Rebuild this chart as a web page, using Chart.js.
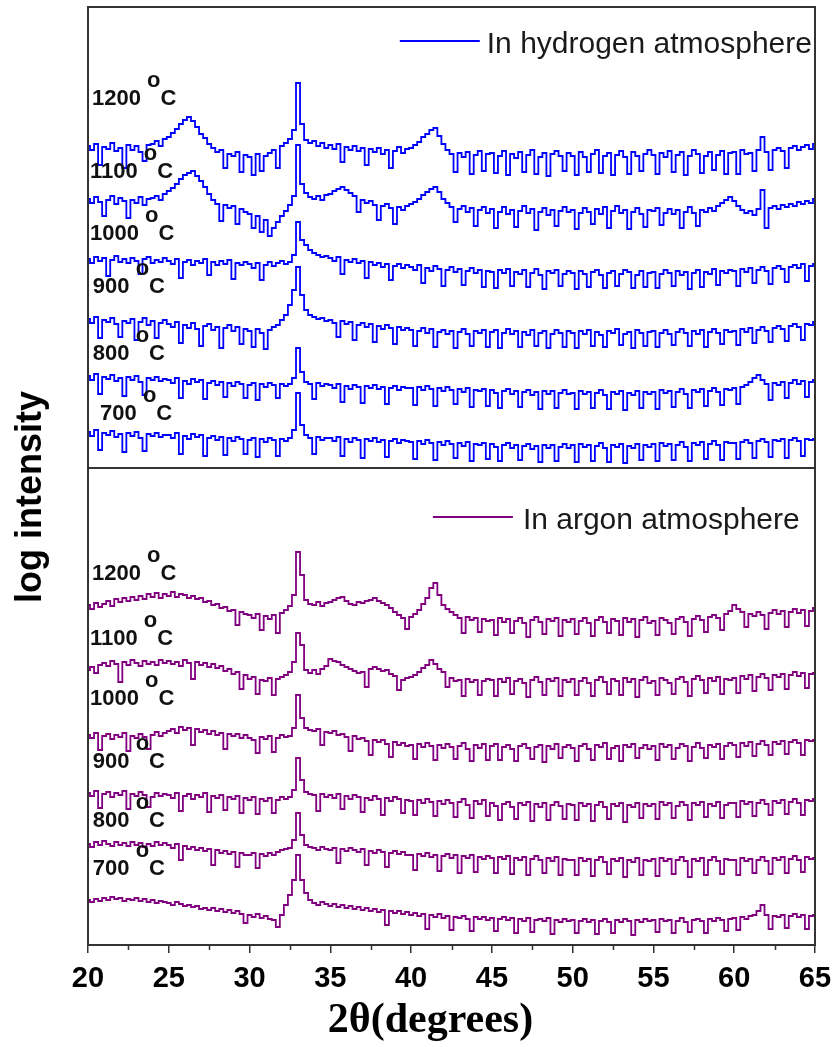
<!DOCTYPE html>
<html><head><meta charset="utf-8">
<script src="https://cdn.jsdelivr.net/npm/chart.js@4.4.1/dist/chart.umd.min.js"></script>
<style>html,body{margin:0;padding:0;background:#fff}canvas{display:block}</style>
</head><body>
<canvas id="c" width="832" height="1047"></canvas>
<script>
// 2-theta sampling grid (degrees)
const twoTheta = [
20,20.25,20.5,20.75,21,21.25,21.5,21.75,22,22.25,22.5,22.75,23,23.25,23.5,23.75,24,24.25,24.5,24.75,
25,25.25,25.5,25.75,26,26.25,26.5,26.75,27,27.25,27.5,27.75,28,28.25,28.5,28.75,29,29.25,29.5,29.75,
30,30.25,30.5,30.75,31,31.25,31.5,31.75,32,32.25,32.5,32.75,33,33.25,33.5,33.75,34,34.25,34.5,34.75,
35,35.25,35.5,35.75,36,36.25,36.5,36.75,37,37.25,37.5,37.75,38,38.25,38.5,38.75,39,39.25,39.5,39.75,
40,40.25,40.5,40.75,41,41.25,41.5,41.75,42,42.25,42.5,42.75,43,43.25,43.5,43.75,44,44.25,44.5,44.75,
45,45.25,45.5,45.75,46,46.25,46.5,46.75,47,47.25,47.5,47.75,48,48.25,48.5,48.75,49,49.25,49.5,49.75,
50,50.25,50.5,50.75,51,51.25,51.5,51.75,52,52.25,52.5,52.75,53,53.25,53.5,53.75,54,54.25,54.5,54.75,
55,55.25,55.5,55.75,56,56.25,56.5,56.75,57,57.25,57.5,57.75,58,58.25,58.5,58.75,59,59.25,59.5,59.75,
60,60.25,60.5,60.75,61,61.25,61.5,61.75,62,62.25,62.5,62.75,63,63.25,63.5,63.75,64,64.25,64.5,64.75,
65];

// Hydrogen atmosphere traces (offset log intensity, a.u.)
const h1200 = [
322,318,324,303,321,319,325,317,320,300,323,318,322,316,307,323,324,327,322,329,
331,335,339,344,348,351,347,341,334,330,324,320,316,318,300,314,312,316,296,313,
311,293,314,297,312,315,318,300,322,325,329,338,385,344,328,325,327,322,325,320,
323,319,324,306,321,318,322,317,320,303,319,316,320,314,318,300,317,321,315,319,
320,323,326,331,334,338,340,332,324,318,314,296,315,311,316,294,313,317,297,314,
315,295,312,317,293,314,310,316,296,313,318,294,311,315,292,314,317,312,297,315,
312,293,316,311,296,314,318,295,312,315,293,313,317,311,294,316,312,297,314,318,
313,294,315,311,317,296,313,316,293,312,318,314,295,312,316,298,313,317,294,315,
316,294,318,314,315,297,318,331,316,298,318,320,317,300,320,322,318,321,323,319,
324];
const h1100 = [
269,265,271,266,252,268,272,264,270,267,250,268,265,271,263,269,270,272,268,274,
277,280,284,289,293,295,297,292,287,281,274,268,264,247,263,260,262,244,259,256,
254,240,252,236,248,232,240,246,252,257,263,272,323,284,275,271,269,272,268,273,
274,277,279,281,278,275,272,256,268,265,267,263,248,262,264,260,244,261,258,262,
264,266,269,273,276,279,281,276,269,265,261,246,259,262,256,260,242,258,261,255,
259,240,256,261,254,258,241,257,262,255,259,238,256,260,253,258,242,257,261,256,
258,239,255,260,256,244,259,254,261,240,257,262,255,258,239,256,260,254,241,258,
257,260,243,255,259,254,258,240,256,261,255,242,258,256,260,257,262,265,268,271,
267,262,258,255,257,253,259,278,240,260,262,259,263,261,264,262,266,264,267,265,
269];
const h1000 = [
209,205,211,207,210,192,208,212,206,209,205,210,207,194,209,211,205,208,206,210,
207,204,209,190,206,208,203,207,205,209,193,206,203,207,204,208,189,205,203,206,
204,200,205,188,203,206,202,205,207,204,206,213,246,228,223,218,215,213,211,212,
210,207,211,194,208,206,209,205,207,190,206,203,205,201,204,188,202,204,200,203,
201,198,203,185,200,197,202,199,182,198,201,196,199,183,197,200,195,198,181,197,
196,180,198,195,199,182,196,194,198,181,195,199,193,179,197,195,198,182,194,197,
195,179,197,194,181,196,198,193,180,195,197,182,194,198,196,180,193,197,181,195,
196,180,194,198,195,182,197,193,196,179,195,198,181,196,194,199,183,197,195,198,
197,182,199,196,200,185,198,201,197,184,200,202,199,186,201,203,200,204,187,202,
204];
const h900 = [
149,145,151,130,148,146,150,144,131,147,145,149,128,146,150,143,147,130,145,148,
144,141,146,125,143,140,145,139,122,142,144,138,141,120,140,143,137,141,124,139,
137,121,139,135,119,138,141,143,148,153,163,178,201,173,158,153,151,149,150,147,
148,145,131,147,144,146,128,143,145,141,144,126,142,139,143,140,124,141,138,140,
138,122,137,140,135,139,121,136,138,134,137,120,136,139,134,122,137,135,138,121,
136,138,120,135,139,134,137,121,136,133,138,122,135,137,120,134,138,135,121,137,
135,120,137,134,138,122,136,133,121,137,135,139,123,134,136,120,138,135,122,136,
137,121,135,138,134,123,136,139,135,122,137,134,138,121,136,139,135,124,138,136,
137,123,139,136,140,125,138,141,137,126,140,142,139,127,142,144,141,128,144,143,
146];
const h800 = [
92,88,94,74,91,89,93,87,90,72,91,88,92,86,73,90,88,91,87,89,
88,85,90,70,87,84,89,86,88,69,85,87,83,86,71,85,82,86,84,70,
83,85,68,84,81,85,83,70,84,82,84,90,120,96,86,84,69,85,82,84,
83,80,84,66,82,79,83,81,65,82,80,83,79,81,64,80,82,78,81,80,
80,63,81,78,82,79,62,80,77,81,78,64,79,76,80,61,78,77,79,62,
78,75,60,77,79,74,77,61,76,78,73,76,59,77,74,77,60,75,78,74,
75,59,77,74,76,60,75,78,73,59,76,74,77,58,75,73,77,60,76,74,
76,59,78,75,77,61,76,79,74,60,78,76,79,62,77,80,76,63,79,78,
80,64,81,83,86,90,93,88,84,68,85,83,86,70,85,88,84,87,71,86,
88];
const h700 = [
36,32,38,18,35,33,37,31,34,16,35,32,36,30,17,34,32,35,31,33,
33,30,35,14,32,29,34,31,33,12,30,32,28,31,13,30,27,31,29,14,
28,30,11,29,26,30,28,12,29,27,30,38,75,43,33,30,14,31,28,30,
30,27,31,12,29,26,30,28,10,29,27,30,26,28,11,27,29,25,28,27,
26,9,27,24,28,25,8,26,23,27,24,10,25,22,26,7,24,23,25,9,
24,21,7,23,25,20,23,8,22,24,19,22,6,23,20,23,7,21,24,20,
23,6,24,21,23,7,22,25,20,6,23,21,24,5,22,20,24,8,23,21,
24,7,25,22,24,8,23,26,21,7,25,23,26,9,24,27,23,8,26,25,
25,9,26,28,25,10,27,29,26,11,28,27,29,10,28,30,27,12,29,28,
29];

// Argon atmosphere traces (offset log intensity, a.u.)
const a1200 = [
340,336,342,338,341,344,339,346,343,347,344,348,345,349,346,351,348,352,347,351,
349,353,348,351,350,347,349,346,347,343,344,340,341,337,338,334,335,320,333,331,
330,327,331,315,329,326,330,312,332,335,339,350,393,370,345,341,340,343,339,342,
343,345,347,348,344,341,340,343,342,344,345,347,344,342,340,337,333,330,327,316,
328,331,335,341,347,357,362,350,340,336,333,330,327,312,328,325,327,313,326,324,
325,310,327,323,326,312,324,327,322,308,325,328,323,311,326,324,327,309,325,323,
326,311,324,327,322,309,325,328,323,312,326,324,310,327,323,326,308,325,328,322,
324,310,327,325,322,311,326,328,323,309,326,329,325,313,328,330,327,315,331,334,
340,336,333,318,331,329,333,330,316,332,335,331,334,318,333,336,332,335,319,334,
337];
const a1100 = [
275,278,272,280,282,279,284,281,263,283,280,285,282,279,284,281,283,280,285,282,
284,281,283,279,285,282,266,283,280,282,278,281,277,279,274,276,271,273,256,270,
266,268,251,265,264,267,250,266,268,270,273,283,312,300,275,272,275,271,276,279,
286,284,283,280,278,276,274,272,273,258,276,278,276,274,275,271,269,255,265,267,
268,270,273,277,280,285,281,276,273,258,267,264,265,249,266,263,265,250,264,266,
265,249,266,263,267,251,264,266,262,248,265,268,263,250,266,264,267,249,265,263,
266,250,264,267,262,249,265,268,263,251,266,264,250,267,263,266,248,265,268,262,
264,250,267,265,262,251,266,268,263,249,266,269,265,252,267,264,268,251,266,265,
267,252,269,266,270,254,268,271,267,255,270,268,271,256,270,273,269,272,257,271,
272];
const a1000 = [
210,207,212,195,209,211,206,210,208,212,194,209,207,211,208,196,210,213,209,212,
214,216,212,218,215,217,200,216,213,215,211,214,210,212,196,211,209,211,207,210,
207,205,192,208,206,209,193,207,210,208,209,217,250,227,217,215,214,216,200,213,
212,214,210,211,208,194,209,206,207,204,190,205,203,205,201,188,203,200,202,199,
200,186,201,198,202,199,185,200,197,201,198,186,199,202,196,184,200,197,201,185,
199,201,185,198,200,196,184,199,201,197,186,198,200,183,199,196,201,187,198,200,
197,184,199,201,196,185,200,198,202,186,197,199,184,200,198,201,187,197,200,196,
199,185,201,198,200,186,197,201,199,184,198,202,197,187,200,198,201,186,199,202,
200,188,202,199,203,189,201,204,200,190,203,201,204,191,203,205,202,190,205,204,
205];
const a900 = [
152,149,154,137,151,153,148,152,150,154,136,151,149,153,150,138,148,152,149,151,
150,147,152,134,149,151,146,150,148,152,133,149,147,150,135,148,146,149,132,147,
145,148,131,146,144,147,132,145,148,146,148,155,187,165,153,151,150,134,151,148,
150,147,151,136,149,146,150,148,133,147,145,149,146,130,147,144,148,146,132,145,
144,130,145,142,146,143,129,144,141,145,142,128,143,146,140,127,144,141,145,129,
142,139,125,141,143,138,126,142,140,143,124,141,138,142,125,140,143,139,126,141,
140,125,142,139,141,124,140,143,138,126,141,139,142,123,140,138,142,127,141,139,
141,126,143,140,142,127,139,143,140,125,142,140,143,128,141,139,143,127,140,142,
142,128,144,141,143,129,142,145,141,130,144,142,145,131,143,146,142,130,145,144,
146];
const a800 = [
101,98,103,100,104,101,99,103,100,102,99,103,100,102,98,101,99,103,100,102,
100,97,101,85,99,96,98,95,97,94,96,80,95,92,94,91,93,78,92,90,
90,92,77,91,89,92,90,93,95,96,97,105,132,110,100,98,97,95,98,96,
95,97,82,96,94,97,95,93,96,80,94,92,95,93,78,92,94,91,93,90,
90,75,91,89,92,88,90,74,89,91,87,90,72,89,87,90,73,88,86,89,
87,72,88,86,89,71,87,85,88,70,86,89,85,72,87,84,88,70,86,85,
85,70,87,84,86,69,85,88,83,71,86,84,87,68,85,83,87,70,85,84,
86,69,87,84,86,71,85,88,84,68,86,84,87,70,85,88,84,71,86,85,
85,70,87,84,86,72,85,88,84,71,87,85,88,72,86,89,85,73,88,86,
87];
const a700 = [
45,43,46,44,47,45,48,46,47,44,46,45,47,44,46,43,45,42,44,43,
42,40,43,41,39,40,38,39,36,37,35,37,34,36,33,35,32,34,31,22,
30,28,31,27,29,26,25,18,30,40,50,65,90,65,52,45,42,40,43,41,
39,41,38,40,37,39,36,38,35,37,34,36,33,35,20,34,32,34,31,33,
30,32,29,31,16,30,28,31,27,29,15,28,27,29,26,14,28,26,28,25,
27,14,26,28,25,27,12,26,24,27,13,25,26,24,27,11,25,23,26,24,
25,12,24,26,23,25,11,24,26,23,12,25,23,26,24,10,25,23,26,24,
25,13,26,24,25,12,24,27,23,13,25,26,24,12,26,24,27,25,14,26,
27,15,28,26,29,30,34,40,30,16,29,28,30,17,29,31,28,30,16,29,
30];

const temperatures = ['1200','1100','1000','900','800','700'];
const hydrogenSeries = [h1200,h1100,h1000,h900,h800,h700];
const argonSeries = [a1200,a1100,a1000,a900,a800,a700];
const xTicks = [20,25,30,35,40,45,50,55,60,65];
const minorTicks = [22.5,27.5,32.5,37.5,42.5,47.5,52.5,57.5,62.5];
const legendLabels = ['In hydrogen atmosphere','In argon atmosphere'];
const xTitle = '2θ(degrees)';
const yTitle = 'log intensity';

const BLUE = '#0000ff', PURPLE = '#800080';
const SANS = "'Liberation Sans', Arial, sans-serif";
const SERIF = "'Liberation Serif', 'Times New Roman', serif";

function makeDs(series, color, axis, prefix) {
  return series.map((s, k) => ({
    label: prefix + ' ' + temperatures[k] + ' °C',
    data: twoTheta.map((x, i) => ({x: x, y: s[i]})),
    yAxisID: axis,
    borderColor: color,
    borderWidth: 1.8,
    pointRadius: 0,
    fill: false,
    stepped: 'middle'
  }));
}
const datasets = makeDs(hydrogenSeries, BLUE, 'yTop', 'H2').concat(makeDs(argonSeries, PURPLE, 'yBot', 'Ar'));

// label placement in data coordinates (x in degrees, y in axis units)
const labelPlacement = {
  yTop: [[20.25,363],[20.12,290],[20.12,228],[20.3,175],[20.3,108],[20.75,48]],
  yBot: [[20.25,365],[20.12,300],[20.12,240],[20.3,177],[20.3,118],[20.3,70]]
};
const legendPlacement = [
  {axis:'yTop', x0:39.3, x1:44.25, y:427, gap:7, color:BLUE, text:legendLabels[0]},
  {axis:'yBot', x0:41.35, x1:46.3, y:428, gap:10, color:PURPLE, text:legendLabels[1]}
];

const decorPlugin = {
  id: 'decor',
  afterDatasetsDraw(chart) {
    const {ctx, chartArea: a, scales} = chart;
    const xs = scales.x;
    ctx.save();
    // frame & panel divider
    ctx.strokeStyle = '#333';
    ctx.lineWidth = 2;
    ctx.strokeRect(a.left, a.top, a.right - a.left, a.bottom - a.top);
    ctx.beginPath();
    ctx.moveTo(a.left, scales.yTop.bottom);
    ctx.lineTo(a.right, scales.yTop.bottom);
    ctx.stroke();
    // minor ticks
    ctx.lineWidth = 1.5;
    ctx.beginPath();
    minorTicks.forEach(v => {
      const px = Math.round(xs.getPixelForValue(v)) + 0.5;
      ctx.moveTo(px, a.bottom);
      ctx.lineTo(px, a.bottom + 5);
    });
    ctx.stroke();
    // temperature labels
    ctx.fillStyle = '#111';
    ctx.font = 'bold 22px ' + SANS;
    ctx.textBaseline = 'alphabetic';
    ctx.textAlign = 'left';
    ['yTop','yBot'].forEach(ax => {
      labelPlacement[ax].forEach((p, k) => {
        const x = xs.getPixelForValue(p[0]);
        const y = scales[ax].getPixelForValue(p[1]);
        const t = temperatures[k];
        ctx.fillText(t, x, y);
        const wo = ctx.measureText(t + ' ').width;
        ctx.fillText('o', x + wo, y - 18.5);
        const wc = ctx.measureText('o').width;
        ctx.fillText('C', x + wo + wc, y);
      });
    });
    // legends
    legendPlacement.forEach(l => {
      const x0 = xs.getPixelForValue(l.x0), x1 = xs.getPixelForValue(l.x1);
      const y = scales[l.axis].getPixelForValue(l.y);
      ctx.strokeStyle = l.color;
      ctx.lineWidth = 2;
      ctx.beginPath(); ctx.moveTo(x0, y); ctx.lineTo(x1, y); ctx.stroke();
      ctx.fillStyle = '#1a1a1a';
      ctx.font = '30px ' + SANS;
      ctx.fillText(l.text, x1 + l.gap, y + 12);
    });
    // x-axis title (slightly left of centre, as in the original)
    ctx.font = 'bold 42px ' + SERIF;
    ctx.fillStyle = '#000';
    ctx.textAlign = 'center';
    ctx.textBaseline = 'middle';
    ctx.fillText(xTitle, (a.left + a.right) / 2 - 21, xs.bottom - 26);
    // y-axis title
    ctx.save();
    ctx.translate(a.left - 57, (a.top + a.bottom) / 2 + 21);
    ctx.rotate(-Math.PI / 2);
    ctx.font = 'bold 36px ' + SANS;
    ctx.fillText(yTitle, 0, 0);
    ctx.restore();
    ctx.restore();
  }
};

new Chart(document.getElementById('c'), {
  type: 'line',
  data: { datasets: datasets },
  options: {
    responsive: false,
    animation: false,
    devicePixelRatio: 1,
    layout: { padding: { left: 88, right: 17, top: 7, bottom: 0 } },
    plugins: { legend: { display: false }, tooltip: { enabled: false } },
    scales: {
      x: {
        type: 'linear', min: 20, max: 65,
        afterBuildTicks: s => { s.ticks = xTicks.map(v => ({value: v})); },
        afterFit: s => { s.paddingLeft = 0; s.paddingRight = 0; s.height = 102; },
        ticks: { color: '#000', padding: 9, maxRotation: 0, autoSkip: false,
                 font: { family: SANS, size: 29, weight: 'bold' } },
        grid: { display: true, drawOnChartArea: false, drawTicks: true, tickLength: 8, color: '#333', lineWidth: 1.5 },
        border: { display: true, color: '#333', width: 2 },
        title: { display: false }
      },
      yBot: { type: 'linear', display: false, min: 0, max: 477, stack: 'panels', stackWeight: 477, weight: 1 },
      yTop: { type: 'linear', display: false, min: 0, max: 461, stack: 'panels', stackWeight: 461, weight: 2 }
    }
  },
  plugins: [decorPlugin]
});
</script>
</body></html>
